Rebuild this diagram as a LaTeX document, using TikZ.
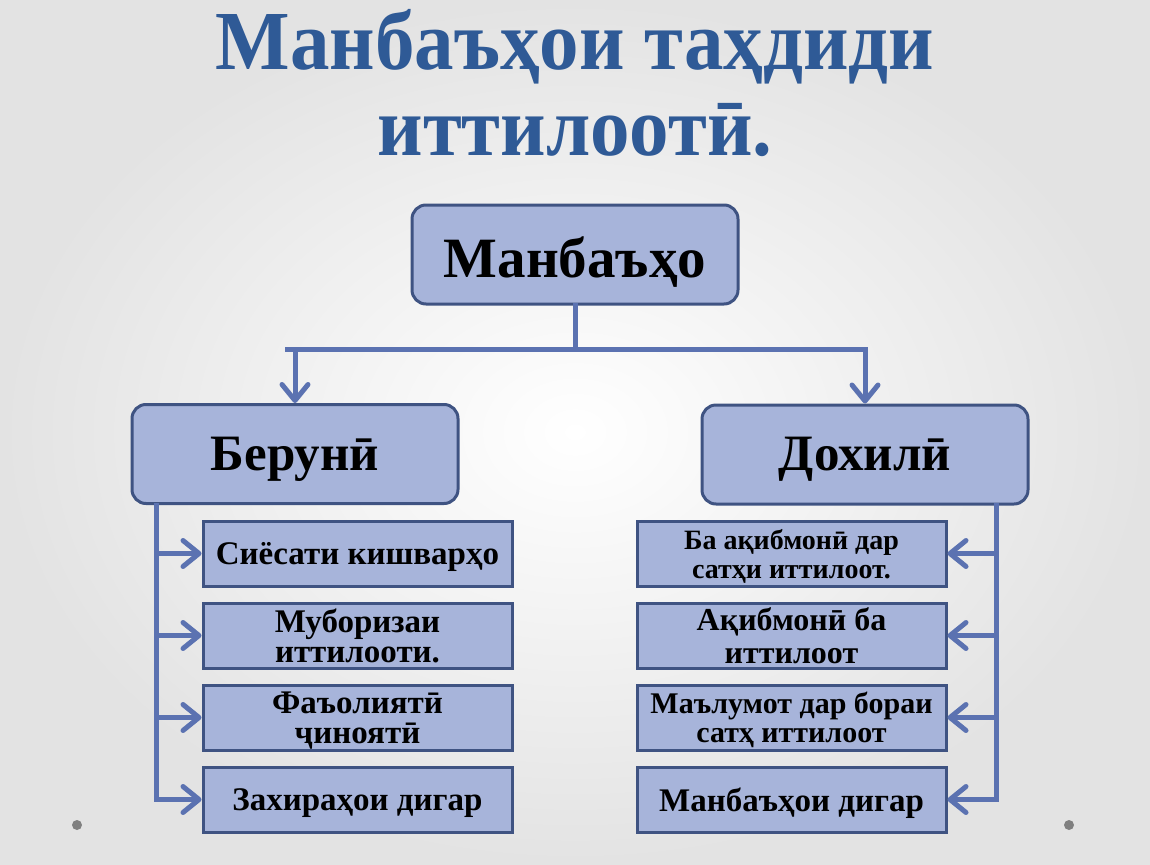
\documentclass[tikz,border=0pt]{standalone}
\usepackage{fontspec}
\setmainfont{Liberation Serif}
\newfontfamily\titlefont[FakeStretch=0.94]{Liberation Serif}
\usetikzlibrary{arrows.meta,calc}
\definecolor{titleblue}{HTML}{2F5A96}
\definecolor{boxfill}{HTML}{A7B4DA}
\definecolor{boxline}{HTML}{3F5382}
\definecolor{linkblue}{HTML}{5B72B1}
\definecolor{dotgrey}{HTML}{808080}
\tikzset{
  title/.style  = {text=titleblue, font=\titlefont\bfseries\fontsize{84}{87}\selectfont, inner sep=0pt},
  head/.style   = {draw=boxline, line width=3pt, fill=boxfill, rounded corners=14pt,
                   minimum width=326pt, minimum height=99pt, inner sep=0pt,
                   text height=45pt, text depth=0pt,
                   font=\bfseries\fontsize{57}{60}\selectfont},
  sub/.style    = {head, text height=32pt, font=\bfseries\fontsize{51}{54}\selectfont},
  item/.style   = {draw=boxline, line width=3pt, fill=boxfill, minimum width=309pt,
                   minimum height=65pt, inner sep=0pt, align=center, text depth=0pt,
                   font=\bfseries\fontsize{33}{30}\selectfont},
  link/.style   = {draw=linkblue, line width=5pt, line cap=rect},
  arr/.style    = {link, -{Straight Barb[length=16pt, width=26pt, round]}},
}

\begin{document}
\begin{tikzpicture}[x=1pt,y=-1pt]
  % background
  \shade[inner color=white, outer color=black!11] (0,0) rectangle (1150,864);
  \useasboundingbox (0,0) rectangle (1150,864);
  \fill[dotgrey] (77,825) circle (5);
  \fill[dotgrey] (1069,825) circle (5);
  % title
  \node[title, anchor=base] (title1) at (575,70) {Манбаъҳои таҳдиди};
  \node[title, anchor=base] (title2) at (575,155) {иттилоотӣ.};
  % main boxes
  \node[head] (src) at (575,254.5) {Манбаъҳо};
  \node[sub]  (ext) at (295,454) {Берунӣ};
  \node[sub]  (int) at (865,454.5) {Дохилӣ};
  % external sources
  \node[item] (e1) at (357.5,553.5) {Сиёсати кишварҳо};
  \node[item] (e2) at (357.5,635.5) {Муборизаи\\иттилооти.};
  \node[item] (e3) at (357.5,717.5) {Фаъолиятӣ\\ҷиноятӣ};
  \node[item] (e4) at (357.5,799.5) {Захираҳои дигар};
  % internal sources
  \node[item, font=\bfseries\fontsize{28}{29}\selectfont] (i1) at (791.5,553.5) {Ба ақибмонӣ дар\\сатҳи иттилоот.};
  \node[item, font=\bfseries\fontsize{32}{33}\selectfont] (i2) at (791.5,635.5) {Ақибмонӣ ба\\иттилоот};
  \node[item, font=\bfseries\fontsize{30}{29}\selectfont] (i3) at (791.5,717.5) {Маълумот дар бораи\\сатҳ иттилоот};
  \node[item] (i4) at (791.5,799.5) {Манбаъҳои дигар};
  % fork
  \draw[link] (src.south) -- ++(0,44) coordinate (fork);
  \draw[link] ($(ext.north |- fork)+(-8,0)$) -- (int.north |- fork);
  \draw[arr] (ext.north |- fork) -- (ext.north);
  \draw[arr] (int.north |- fork) -- (int.north);
  % trunks
  \coordinate (etrunk) at ($(ext.south west)+(26,0)$);
  \coordinate (itrunk) at ($(int.south east)+(-33,0)$);
  \draw[link] (etrunk) -- (etrunk |- e4.west);
  \draw[link] (itrunk) -- (itrunk |- i4.east);
  \foreach \k in {1,...,4} {
    \draw[arr] (etrunk |- e\k.west) -- (e\k.west);
    \draw[arr] (itrunk |- i\k.east) -- (i\k.east);
  }
\end{tikzpicture}
\end{document}
